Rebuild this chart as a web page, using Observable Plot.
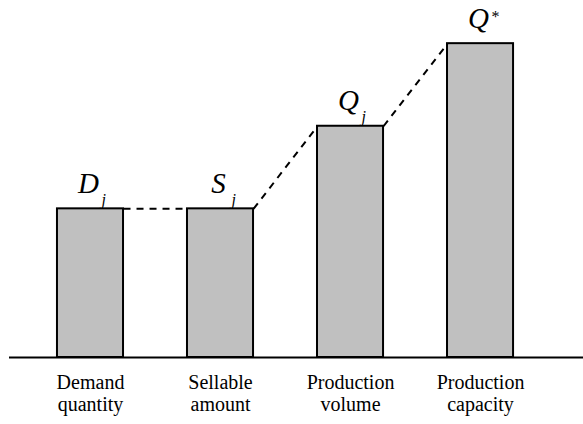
<!DOCTYPE html>
<html>
<head>
<meta charset="utf-8">
<script src="https://cdn.jsdelivr.net/npm/d3@7"></script>
<script src="https://cdn.jsdelivr.net/npm/@observablehq/plot@0.6"></script>
<style>
  html, body { margin: 0; padding: 0; background: #fff; font-family: "Liberation Serif", serif; }
  #chart svg { display: block; }
</style>
</head>
<body>
<div id="chart"></div>
<script>
const categories = ["Demand\nquantity", "Sellable\namount", "Production\nvolume", "Production\ncapacity"];
const values = [3.6, 3.6, 5.6, 7.6];
const symbols = ["D", "S", "Q", "Q"];
const subscripts = ["j", "j", "j", ""];
const superscripts = ["", "", "", "*"];

const data = categories.map((c, i) => ({
  i, category: c, value: values[i],
  symbol: symbols[i], sub: subscripts[i], sup: superscripts[i]
}));
const half = 0.254;
const links = data.slice(0, -1).map((d, k) => ({
  x1: d.i + half, y1: d.value,
  x2: data[k + 1].i - half, y2: data[k + 1].value
}));

const serif = "Liberation Serif";

const chart = Plot.plot({
  width: 583,
  height: 424,
  marginTop: 6,
  marginBottom: 67,
  marginLeft: 9,
  marginRight: 0,
  x: { domain: [-0.623, 3.792], axis: null },
  y: { domain: [0, 8.5], axis: null },
  style: { background: "#fff" },
  marks: [
    Plot.rectY(data, {
      x1: d => d.i - half, x2: d => d.i + half, y1: 0, y2: "value",
      fill: "#c0c0c0", stroke: "#000", strokeWidth: 2
    }),
    Plot.link(links, {
      x1: "x1", y1: "y1", x2: "x2", y2: "y2",
      stroke: "#000", strokeWidth: 2, strokeDasharray: "7,6"
    }),
    Plot.ruleY([0], { stroke: "#000", strokeWidth: 2 }),
    Plot.text(data, {
      x: "i", y: 0, text: "category", lineAnchor: "top", dy: 16,
      lineHeight: 1.1, fontSize: 20, fill: "#000", fontFamily: serif
    }),
    Plot.text(data, {
      x: "i", y: "value", text: "symbol", lineAnchor: "bottom", dy: -16, dx: -2,
      fontSize: 29, fontStyle: "italic", fill: "#000", fontFamily: serif
    }),
    Plot.text(data.filter(d => d.sub), {
      x: "i", y: "value", text: "sub", lineAnchor: "bottom", textAnchor: "start",
      dx: 11, dy: -4, fontSize: 16, fontStyle: "italic", fill: "#000", fontFamily: serif
    }),
    Plot.text(data.filter(d => d.sup), {
      x: "i", y: "value", text: "sup", lineAnchor: "bottom", textAnchor: "start",
      dx: 11, dy: -22, fontSize: 16, fill: "#000", fontFamily: serif
    })
  ]
});
chart.setAttribute("font-family", serif);
document.getElementById("chart").appendChild(chart);
</script>
</body>
</html>
